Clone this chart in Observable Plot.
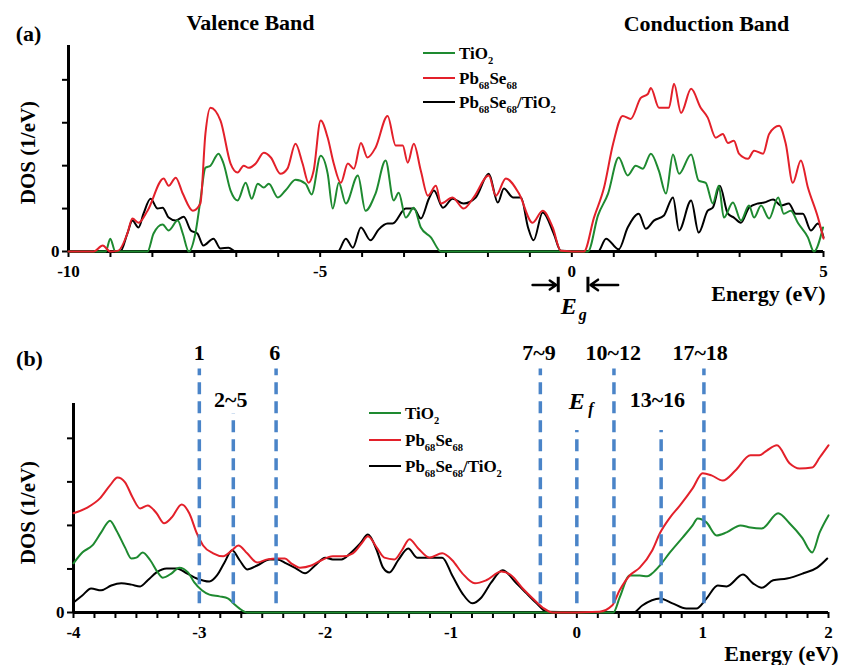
<!DOCTYPE html>
<html><head><meta charset="utf-8">
<script src="https://cdn.jsdelivr.net/npm/d3@7"></script>
<script src="https://cdn.jsdelivr.net/npm/@observablehq/plot@0.6"></script>
<style>
body{margin:0;background:#fff;}
#wrap{position:relative;width:847px;height:665px;font-family:"Liberation Serif","Times New Roman",serif;font-weight:bold;color:#000;overflow:hidden;}
#wrap svg{position:absolute;left:0;overflow:visible;}
.leg{position:absolute;font-size:17px;line-height:1;}
.leg .row{position:absolute;left:0;white-space:nowrap;display:flex;align-items:center;height:20px;}
.leg .sw{display:inline-block;width:32px;height:2.5px;margin-right:4px;}
.leg sub{font-size:62%;vertical-align:-0.45em;line-height:0;}
</style></head><body><div id="wrap"></div>
<script>
// ---------------- Panel (a) data: [energy (eV), DOS] ----------------
const aTiO2 = [[-10,0],[-9.26,0],[-9.17,0.30],[-9.07,0],[-8.43,0],[-8.31,0.42],[-8.13,0.63],[-8.01,0.49],[-7.83,0.72],[-7.73,0.42],[-7.61,0],[-7.48,0.42],[-7.38,1.19],[-7.28,1.95],[-7.18,2.00],[-7.02,2.28],[-6.92,2.05],[-6.78,1.42],[-6.64,1.19],[-6.48,1.60],[-6.36,1.23],[-6.24,1.58],[-6.12,1.49],[-6.02,1.58],[-5.84,1.26],[-5.69,1.42],[-5.49,1.67],[-5.29,1.58],[-5.17,1.33],[-4.99,2.23],[-4.85,1.81],[-4.75,1.00],[-4.63,1.60],[-4.49,1.12],[-4.25,1.77],[-4.10,0.95],[-3.90,1.35],[-3.70,2.12],[-3.54,1.19],[-3.44,1.37],[-3.30,0.79],[-3.14,1.02],[-3.00,0.56],[-2.80,0.33],[-2.60,0],[0.32,0],[0.52,0.84],[0.72,1.35],[0.93,2.19],[1.11,1.77],[1.27,2.00],[1.41,1.93],[1.57,2.28],[1.73,1.88],[1.87,1.35],[2.01,2.26],[2.13,1.81],[2.37,2.26],[2.52,1.65],[2.66,1.60],[2.80,1.12],[2.92,1.53],[3.02,0.79],[3.20,1.14],[3.36,0.72],[3.52,1.07],[3.62,0.79],[3.76,1.07],[3.92,0.77],[4.10,1.26],[4.21,0.88],[4.35,0.95],[4.49,0.67],[4.69,0.33],[4.81,0],[4.99,0.56]];
const aPbSe = [[-10,0],[-9.50,0],[-9.32,0.14],[-9.17,0],[-9.01,0.02],[-8.83,0.42],[-8.73,0.77],[-8.61,0.67],[-8.43,0.95],[-8.11,1.70],[-8.01,1.53],[-7.87,1.72],[-7.73,1.35],[-7.53,0.95],[-7.38,1.12],[-7.28,2.74],[-7.18,3.35],[-6.98,3.05],[-6.78,2.05],[-6.64,1.84],[-6.52,2.00],[-6.42,1.95],[-6.28,2.05],[-6.12,2.30],[-5.98,2.19],[-5.79,1.81],[-5.65,1.93],[-5.49,2.51],[-5.35,2.05],[-5.23,1.60],[-5.13,1.88],[-4.99,3.05],[-4.85,2.65],[-4.73,2.05],[-4.59,1.60],[-4.45,2.05],[-4.33,1.93],[-4.19,2.53],[-4.06,2.19],[-3.90,2.42],[-3.66,3.16],[-3.50,2.47],[-3.36,2.47],[-3.26,2.07],[-3.14,2.51],[-3.00,1.88],[-2.86,1.30],[-2.70,1.53],[-2.60,1.12],[-2.37,1.26],[-2.15,1.00],[-1.95,1.26],[-1.65,1.77],[-1.51,1.30],[-1.31,1.70],[-1.05,1.35],[-0.78,0.67],[-0.58,0.95],[-0.38,0.56],[-0.22,0.02],[0.24,0],[0.44,0.79],[0.64,1.49],[0.82,2.51],[1.01,3.16],[1.17,3.09],[1.37,3.58],[1.51,3.67],[1.57,3.81],[1.73,3.35],[1.93,3.35],[2.03,3.91],[2.17,3.23],[2.37,3.79],[2.56,3.35],[2.70,3.12],[2.86,2.65],[3.00,2.74],[3.10,2.53],[3.22,2.58],[3.32,2.28],[3.50,2.16],[3.62,2.35],[3.80,2.28],[3.92,2.74],[4.12,2.93],[4.25,2.51],[4.39,1.60],[4.55,2.12],[4.69,1.49],[4.89,0.79],[5.00,0.30]];
const aHetero = [[-10,0],[-8.97,0],[-8.83,0.42],[-8.73,0.72],[-8.61,0.56],[-8.51,0.88],[-8.37,1.23],[-8.23,1.00],[-8.13,1.02],[-8.01,0.79],[-7.87,0.72],[-7.71,0.81],[-7.57,0.49],[-7.44,0.42],[-7.32,0.14],[-7.12,0.30],[-6.98,0.07],[-6.82,0.09],[-6.68,0],[-4.65,0],[-4.49,0.30],[-4.35,0.09],[-4.19,0.56],[-4.00,0.26],[-3.84,0.51],[-3.66,0.65],[-3.56,0.65],[-3.30,1.00],[-3.14,1.00],[-3.00,0.77],[-2.84,1.23],[-2.74,1.42],[-2.56,1.02],[-2.37,1.23],[-2.15,1.12],[-1.91,1.26],[-1.65,1.81],[-1.47,1.14],[-1.35,1.47],[-1.17,1.26],[-1.01,1.26],[-0.87,0.56],[-0.76,0.26],[-0.58,0.91],[-0.36,0.42],[-0.22,0.02],[0.52,0],[0.68,0.30],[0.93,0.05],[1.11,0.56],[1.33,0.88],[1.47,0.53],[1.63,0.72],[1.83,0.84],[2.01,1.26],[2.13,0.49],[2.37,1.19],[2.52,0.44],[2.70,0.95],[2.80,1.02],[2.94,1.53],[3.10,0.88],[3.22,0.79],[3.36,0.67],[3.52,1.02],[3.70,1.12],[3.82,1.14],[4.00,1.21],[4.16,1.07],[4.31,1.12],[4.45,0.88],[4.59,0.88],[4.75,0.49],[4.89,0.65],[5.00,0.33]];

// ---------------- Panel (b) data ----------------
const bTiO2 = [[-4.00,1.13],[-3.93,1.38],[-3.85,1.54],[-3.78,1.84],[-3.71,2.11],[-3.66,1.89],[-3.59,1.49],[-3.54,1.24],[-3.50,1.26],[-3.45,1.38],[-3.39,1.20],[-3.33,0.92],[-3.29,0.80],[-3.22,0.90],[-3.16,1.03],[-3.09,0.92],[-3.04,0.69],[-2.98,0.51],[-2.92,0.41],[-2.84,0.37],[-2.77,0.32],[-2.73,0.21],[-2.68,0.09],[-2.62,0],[0.29,0],[0.34,0.34],[0.42,0.85],[0.50,0.85],[0.56,0.83],[0.60,0.90],[0.66,1.08],[0.74,1.38],[0.84,1.72],[0.92,2.00],[0.96,2.16],[1.03,2.07],[1.11,1.77],[1.19,1.84],[1.30,2.00],[1.38,1.95],[1.47,1.93],[1.60,2.28],[1.69,2.05],[1.79,1.72],[1.87,1.38],[1.93,1.84],[2.00,2.23]];
const bPbSe = [[-4.00,2.28],[-3.89,2.41],[-3.79,2.62],[-3.71,2.92],[-3.65,3.10],[-3.59,2.99],[-3.53,2.64],[-3.47,2.39],[-3.41,2.46],[-3.34,2.28],[-3.28,2.05],[-3.22,2.18],[-3.14,2.48],[-3.08,2.28],[-3.02,1.82],[-2.97,1.54],[-2.89,1.36],[-2.81,1.29],[-2.74,1.43],[-2.69,1.54],[-2.62,1.36],[-2.54,1.15],[-2.46,1.22],[-2.38,1.24],[-2.32,1.24],[-2.27,1.13],[-2.20,1.03],[-2.11,1.08],[-2.03,1.20],[-1.94,1.29],[-1.86,1.29],[-1.78,1.36],[-1.71,1.59],[-1.66,1.75],[-1.59,1.49],[-1.53,1.26],[-1.45,1.22],[-1.39,1.43],[-1.33,1.68],[-1.26,1.47],[-1.17,1.26],[-1.07,1.36],[-0.99,1.20],[-0.91,0.90],[-0.81,0.67],[-0.72,0.74],[-0.60,0.94],[-0.52,0.85],[-0.43,0.55],[-0.35,0.32],[-0.27,0.11],[-0.19,0],[0.18,0.02],[0.28,0.16],[0.34,0.51],[0.42,0.85],[0.50,1.03],[0.60,1.43],[0.66,1.82],[0.74,2.18],[0.82,2.46],[0.92,2.85],[1.00,3.20],[1.07,3.15],[1.16,3.03],[1.26,3.26],[1.38,3.61],[1.45,3.61],[1.51,3.72],[1.59,3.84],[1.69,3.43],[1.77,3.31],[1.87,3.33],[1.93,3.56],[2.00,3.84]];
const bHetero = [[-4.00,0.23],[-3.93,0.39],[-3.86,0.55],[-3.78,0.51],[-3.70,0.62],[-3.62,0.67],[-3.54,0.64],[-3.47,0.60],[-3.41,0.74],[-3.34,0.92],[-3.26,1.01],[-3.18,1.01],[-3.10,0.90],[-3.02,0.78],[-2.92,0.71],[-2.86,0.85],[-2.80,1.15],[-2.74,1.43],[-2.68,1.20],[-2.62,0.99],[-2.54,1.08],[-2.44,1.22],[-2.38,1.22],[-2.31,1.13],[-2.23,1.01],[-2.16,0.90],[-2.08,1.08],[-2.00,1.26],[-1.94,1.22],[-1.87,1.22],[-1.80,1.36],[-1.72,1.59],[-1.66,1.79],[-1.59,1.43],[-1.54,1.03],[-1.49,0.92],[-1.42,1.20],[-1.34,1.47],[-1.27,1.26],[-1.18,1.26],[-1.07,1.26],[-0.99,0.85],[-0.91,0.44],[-0.83,0.21],[-0.76,0.34],[-0.68,0.69],[-0.59,0.97],[-0.48,0.67],[-0.40,0.44],[-0.32,0.21],[-0.24,0.02],[0.45,0],[0.52,0.16],[0.66,0.32],[0.76,0.21],[0.87,0.09],[0.95,0.09],[1.03,0.32],[1.12,0.62],[1.19,0.60],[1.32,0.87],[1.40,0.67],[1.47,0.57],[1.56,0.74],[1.67,0.78],[1.80,0.90],[1.91,1.03],[1.99,1.24]];

// state markers (panel b)
const stateX   = [-3.0, -2.73, -2.39, -0.29, 0, 0.295, 0.67, 1.01];
const stateTop = [5.59, 4.57, 5.59, 5.59, 4.18, 5.59, 4.18, 5.59];
const stateBottom = 0.2;
const stateLabels = ["1", "2~5", "6", "7~9", "10~12", "13~16", "17~18"];
const stateLabelX = [-3.0, -2.75, -2.40, -0.30, 0.29, 0.64, 0.98];
const stateLabelY = [5.95, 4.87, 5.95, 5.95, 5.95, 4.87, 5.95];

// band-gap arrows (panel a)
const gapArrowFrom = [-0.78, 0.92];
const gapArrowTo   = [-0.31, 0.37];
const gapBars      = [-0.27, 0.32];

// ticks
const ticksA = d3.range(19).map(i => -10 + i * 5 / 6);
const ticksB = d3.range(37).map(i => -4 + i / 6);
const yTicks = [0, 1, 2, 3, 4];

const seriesNames = ["TiO2", "Pb68Se68", "Pb68Se68/TiO2"];
const colors = ["#1e8a30", "#e3202a", "#000000"];
const blue = "#4a84c8";
const FONT = '"Liberation Serif","Times New Roman",serif';

const toRows = p => p.map(([e, d]) => ({e, d}));
const near = (v, k) => Math.abs(v - Math.round(v / k) * k) < 1e-6;

function label(text, dx, dy, o = {}) {
  return Plot.text([text], {text: d => d, frameAnchor: "top-left", dx, dy, textAnchor: "middle", lineAnchor: "middle",
    fontWeight: "bold", fontSize: 22, ...o});
}

function curves(sets) {
  const order = [2, 0, 1];
  return order.map(i => Plot.line(toRows(sets[i]), {x: "e", y: "d", stroke: colors[i], strokeWidth: 2, curve: "monotone-x"}));
}

const wrap = document.getElementById("wrap");

// ---------------- Panel (a) ----------------
const mlA = 68, mtA = 45;
const plotA = Plot.plot({
  width: 847, height: 320, marginLeft: mlA, marginRight: 24, marginTop: mtA, marginBottom: 69,
  x: {domain: [-10, 5]}, y: {domain: [0, 4.8]},
  style: {fontFamily: FONT, fontWeight: "bold", fontSize: "17px", color: "#000", background: "transparent"},
  marks: [
    Plot.axisX({ticks: ticksA, tickSize: 6, tickPadding: 7, strokeWidth: 2, label: null,
      tickFormat: d => near(d, 5) ? String(Math.round(d)) : ""}),
    Plot.axisY({ticks: yTicks, tickSize: 6, tickPadding: 3, strokeWidth: 2, label: null,
      tickFormat: d => d === 0 ? "0" : ""}),
    Plot.ruleY([0], {strokeWidth: 3}),
    Plot.ruleX([{x: -10, y1: 0, y2: 4.8}], {x: "x", y1: "y1", y2: "y2", strokeWidth: 3}),
    ...curves([aTiO2, aPbSe, aHetero]),
    Plot.arrow(gapArrowFrom.map((x, i) => ({x1: x, x2: gapArrowTo[i], y: -0.78})),
      {x1: "x1", x2: "x2", y1: "y", y2: "y", strokeWidth: 2.5, headLength: 9, headAngle: 70}),
    Plot.ruleX(gapBars.map(x => ({x, y1: -0.6, y2: -0.96})), {x: "x", y1: "y1", y2: "y2", strokeWidth: 3}),
    Plot.text([{x: 0, y: -1.28}], {x: "x", y: "y", text: () => "E", dx: -3, fontSize: 24, fontStyle: "italic", fontWeight: "bold"}),
    Plot.text([{x: 0, y: -1.28}], {x: "x", y: "y", text: () => "g", dx: 11, dy: 8, fontSize: 16, fontStyle: "italic", fontWeight: "bold"}),
    label("(a)", 28 - mlA, 33 - mtA),
    label("Valence Band", 250 - mlA, 22 - mtA),
    label("Conduction Band", 706 - mlA, 23 - mtA),
    label("Energy (eV)", 825 - mlA, 293 - mtA, {textAnchor: "end"}),
    label("DOS (1/eV)", 28 - mlA, 152 - mtA, {rotate: -90, fontSize: 21})
  ]
});
plotA.style.top = "0px";
wrap.appendChild(plotA);

// ---------------- Panel (b) ----------------
const mlB = 73, mtB = 83, topB = 320;
const plotB = Plot.plot({
  width: 847, height: 345, marginLeft: mlB, marginRight: 19, marginTop: mtB, marginBottom: 53,
  x: {domain: [-4, 2]}, y: {domain: [0, 4.8]},
  style: {fontFamily: FONT, fontWeight: "bold", fontSize: "17px", color: "#000", background: "transparent"},
  marks: [
    Plot.axisX({ticks: ticksB, tickSize: 6, tickPadding: 7, strokeWidth: 2, label: null,
      tickFormat: d => near(d, 1) ? String(Math.round(d)) : ""}),
    Plot.axisY({ticks: yTicks, tickSize: 6, tickPadding: 3, strokeWidth: 2, label: null,
      tickFormat: d => d === 0 ? "0" : ""}),
    Plot.ruleY([0], {strokeWidth: 3}),
    Plot.ruleX([{x: -4, y1: 0, y2: 4.8}], {x: "x", y1: "y1", y2: "y2", strokeWidth: 3}),
    ...curves([bTiO2, bPbSe, bHetero]),
    Plot.ruleX(stateX.map((x, i) => ({x, y1: stateBottom, y2: stateTop[i]})),
      {x: "x", y1: "y1", y2: "y2", stroke: blue, strokeWidth: 3.5, strokeDasharray: "12,7"}),
    Plot.text(stateLabels.map((t, i) => ({t, x: stateLabelX[i], y: stateLabelY[i]})),
      {x: "x", y: "y", text: "t", fontSize: 22, fontWeight: "bold"}),
    Plot.text([{x: 0, y: 4.85}], {x: "x", y: "y", text: () => "E", dx: 0, fontSize: 24, fontStyle: "italic", fontWeight: "bold"}),
    Plot.text([{x: 0, y: 4.85}], {x: "x", y: "y", text: () => "f", dx: 14, dy: 8, fontSize: 16, fontStyle: "italic", fontWeight: "bold"}),
    label("(b)", 29 - mlB, 358 - topB - mtB),
    label("Energy (eV)", 838 - mlB, 653 - topB - mtB, {textAnchor: "end"}),
    label("DOS (1/eV)", 28 - mlB, 512 - topB - mtB, {rotate: -90, fontSize: 21})
  ]
});
plotB.style.top = topB + "px";
wrap.appendChild(plotB);

// ---------------- Legends (HTML, with subscripts) ----------------
const legendHTML = ["TiO<sub>2</sub>", "Pb<sub>68</sub>Se<sub>68</sub>", "Pb<sub>68</sub>Se<sub>68</sub>/TiO<sub>2</sub>"];
function legend(left, tops) {
  const box = document.createElement("div");
  box.className = "leg";
  box.style.left = left + "px";
  box.style.top = "0px";
  seriesNames.forEach((name, i) => {
    const row = document.createElement("div");
    row.className = "row";
    row.style.top = (tops[i] - 10) + "px";
    row.innerHTML = `<span class="sw" style="background:${colors[i]}"></span><span>${legendHTML[i]}</span>`;
    box.appendChild(row);
  });
  wrap.appendChild(box);
}
legend(423, [53, 78, 102]);
legend(369, [413, 440, 466]);
</script>
</body></html>
